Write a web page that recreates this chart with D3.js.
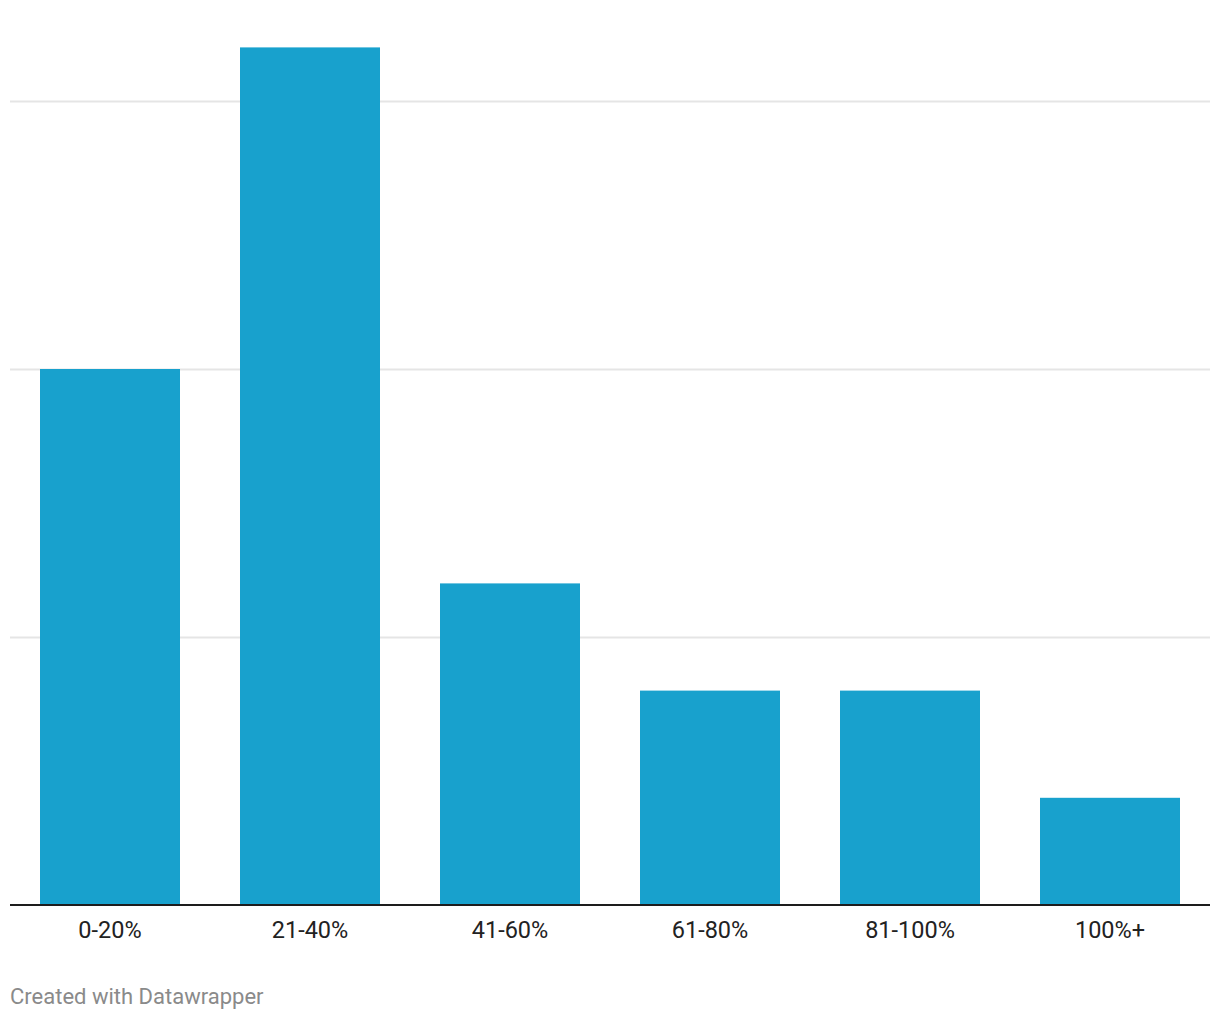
<!DOCTYPE html>
<html><head><meta charset="utf-8">
<script src="https://cdn.jsdelivr.net/npm/d3@7"></script>
<style>body{margin:0;background:#fff;} svg{display:block;font-family:Roboto,"Noto Sans",sans-serif;}</style>
</head><body>
<script>
const categories = ["0-20%","21-40%","41-60%","61-80%","81-100%","100%+"];
const values = [10,16,6,4,4,2];
const gridTicks = [5,10,15];

const W = 1220, H = 1020;
const svg = d3.select("body").append("svg").attr("width", W).attr("height", H);
const x = d3.scaleBand().domain(categories).range([10,1210]).paddingInner(0.3).paddingOuter(0.15);
const y = d3.scaleLinear().domain([0,5]).range([905,637]);

svg.append("g").selectAll("line").data(gridTicks).join("line")
  .attr("x1",10).attr("x2",1210)
  .attr("y1",d=>Math.round(y(d))+0.5).attr("y2",d=>Math.round(y(d))+0.5)
  .attr("stroke","#e5e5e5").attr("stroke-width",2);

svg.append("g").selectAll("rect").data(values).join("rect")
  .attr("x",(d,i)=>x(categories[i])).attr("width",x.bandwidth())
  .attr("y",d=>y(d)).attr("height",d=>y(0)-y(d))
  .attr("fill","#18a1cd");

svg.append("line").attr("x1",10).attr("x2",1210).attr("y1",y(0)).attr("y2",y(0))
  .attr("stroke","#1d1d1d").attr("stroke-width",2);

const xa = svg.append("g").attr("transform",`translate(0,${y(0)})`)
  .call(d3.axisBottom(x).tickSize(0).tickPadding(16));
xa.select(".domain").remove();
xa.selectAll("text").attr("font-size",23.5).attr("fill","#222").attr("font-family","Roboto, sans-serif");

svg.append("text").attr("x",10).attr("y",1004).text("Created with Datawrapper")
  .attr("font-size",22).attr("fill","#8a8a8a");
</script>
</body></html>
